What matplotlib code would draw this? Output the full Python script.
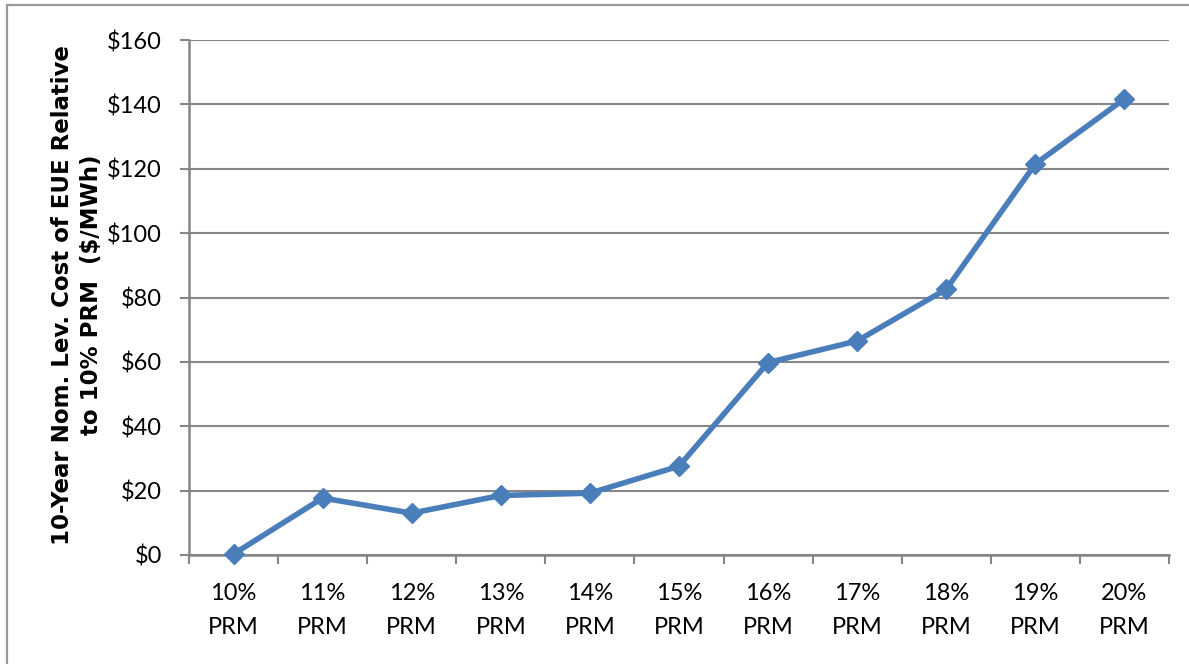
import numpy as np
import matplotlib.pyplot as plt
from matplotlib.patches import Rectangle
from matplotlib.ticker import FixedLocator, FuncFormatter

categories = ["10%\nPRM", "11%\nPRM", "12%\nPRM", "13%\nPRM", "14%\nPRM", "15%\nPRM",
              "16%\nPRM", "17%\nPRM", "18%\nPRM", "19%\nPRM", "20%\nPRM"]
cost = [0.3, 17.7, 13.0, 18.5, 19.2, 27.6, 59.8, 66.5, 82.6, 121.5, 141.7]
y_ticks = [0, 20, 40, 60, 80, 100, 120, 140, 160]

blue = "#4A7EBB"
grey = "#868686"

plt.rcParams['font.family'] = ['Lato', 'DejaVu Sans']

fig = plt.figure(figsize=(11.89, 6.64), dpi=100)
ax = fig.add_axes([189 / 1189, 109 / 664, 980 / 1189, 515 / 664])

# outer chart border (left and top edges)
fig.patches.append(Rectangle((7 / 1189, -0.1), 1.2, 1.1 - 5 / 664, transform=fig.transFigure,
                             fill=False, edgecolor="#9a9a9a", linewidth=1.6, zorder=0))

x = np.arange(len(categories))
ax.plot(x, cost, color=blue, linewidth=4, marker="D", markersize=10.5,
        markerfacecolor=blue, markeredgecolor=blue, zorder=3, clip_on=False)

ax.set_xlim(-0.5, len(categories) - 0.5)
ax.set_ylim(0, 160)
ax.set_yticks(y_ticks)
ax.yaxis.set_major_formatter(FuncFormatter(lambda v, p: f"${v:.0f}"))
ax.grid(axis="y", color=grey, linewidth=1.5)
ax.set_axisbelow(True)

ax.set_xticks(x)
ax.set_xticklabels(categories, linespacing=1.8)
ax.xaxis.set_minor_locator(FixedLocator(np.arange(-0.5, len(categories), 1.0)))
ax.tick_params(axis="x", which="major", length=0, pad=20, labelsize=17)
ax.tick_params(axis="x", which="minor", length=6.5, width=1.5, color=grey)
ax.tick_params(axis="y", length=6.5, width=1.5, color=grey, labelsize=17, pad=13)

for side in ["top", "right"]:
    ax.spines[side].set_visible(False)
for side in ["left", "bottom"]:
    ax.spines[side].set_color(grey)
    ax.spines[side].set_linewidth(1.8)

ax.set_ylabel("10-Year Nom. Lev. Cost of EUE Relative\nto 10% PRM  ($/MWh)",
              family="DejaVu Sans", fontsize=16.5, fontweight="bold", linespacing=1.3)
ax.yaxis.set_label_coords(-0.088, 0.505)

fig.savefig("out.png", dpi=100)
